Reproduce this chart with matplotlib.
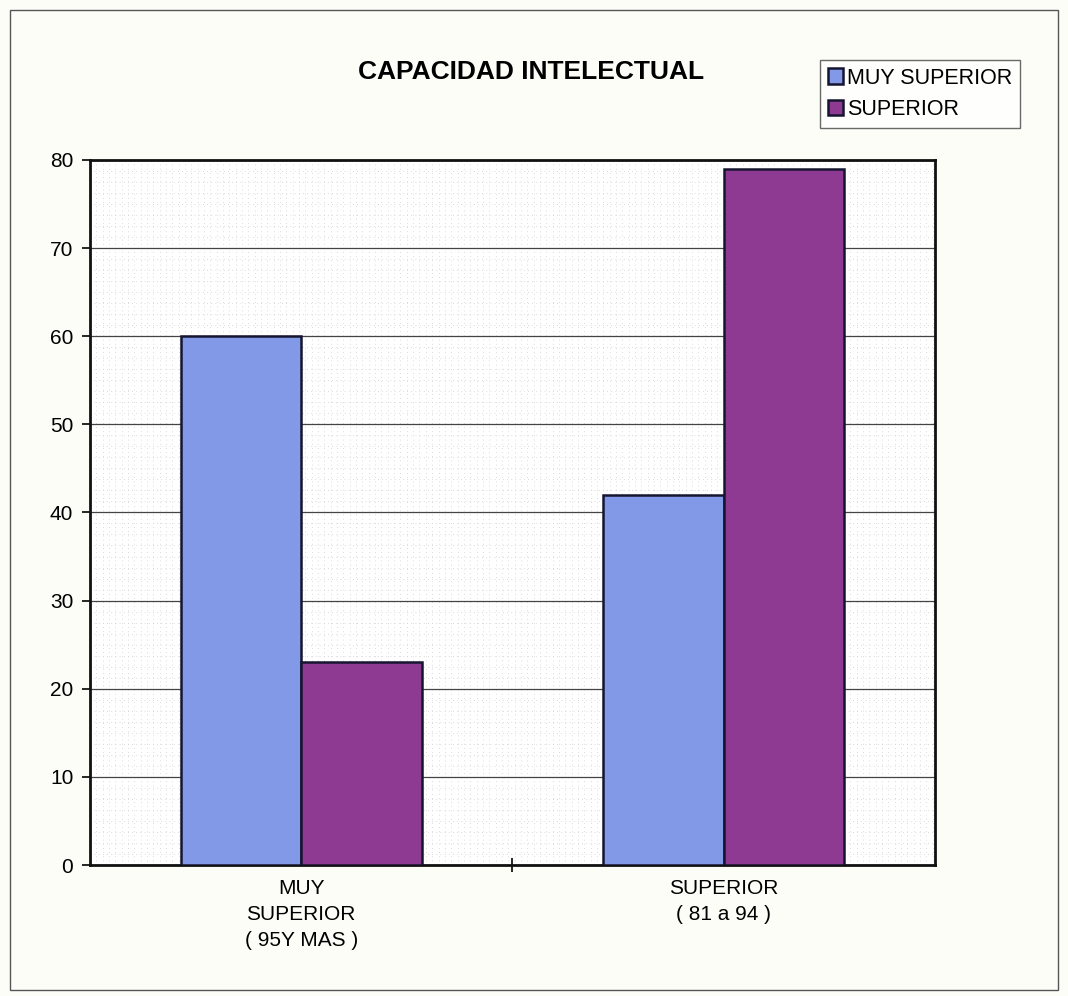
import matplotlib.pyplot as plt
import matplotlib.patches as mpatches
import numpy as np

plt.rcParams['font.family'] = ['Liberation Sans', 'DejaVu Sans']

# Daten
categorias = ['MUY\nSUPERIOR\n( 95Y MAS )', 'SUPERIOR\n( 81 a 94 )']
muy_superior = [60, 42]
superior = [23, 79]
series = ['MUY SUPERIOR', 'SUPERIOR']

fig = plt.figure(figsize=(10.68, 9.96), dpi=100)
fig.patch.set_facecolor('#fdfdf8')
fig.patches.append(mpatches.Rectangle((10 / 1068, 6 / 996), 1048 / 1068, 980 / 996,
                                      transform=fig.transFigure, fill=False,
                                      edgecolor='#555555', lw=1.0))

ax = fig.add_axes([0.0843, 0.1315, 0.791, 0.708])
x = np.arange(len(categorias))
w = 0.285
ax.bar(x - w / 2, muy_superior, w, color='#8199e6', edgecolor='#151530', lw=1.8, zorder=3,
       label=series[0])
ax.bar(x + w / 2, superior, w, color='#8e3a92', edgecolor='#151530', lw=1.8, zorder=3,
       label=series[1])

ax.set_xlim(-0.5, 1.5)
ax.set_ylim(0, 80)
ax.set_yticks(np.arange(0, 81, 10))
ax.set_xticks([0.5])
ax.set_xticklabels([''])
ax.grid(True, axis='y', color='#444444', lw=0.9, zorder=1)
# fondo punteado
ax.set_yticks(np.arange(0, 80, 1.25), minor=True)
ax.set_xticks(np.arange(-0.5, 1.5, 0.015), minor=True)
ax.grid(True, which='minor', color='#cfcfcf', lw=0.6, ls=(0, (1, 4)), zorder=0)
ax.tick_params(which='minor', length=0)
ax.tick_params(axis='y', direction='out', length=6, width=1.2, labelsize=15, pad=6)
ax.tick_params(axis='x', direction='inout', length=10, width=1.2)
for s in ax.spines.values():
    s.set_linewidth(2)
    s.set_color('#111111')
ax.set_facecolor('white')

for xi, lab in zip(x, categorias):
    ax.text(xi, -1.6, lab, ha='center', va='top', fontsize=15, linespacing=1.45)

fig.text(0.497, 0.928, 'CAPACIDAD INTELECTUAL', ha='center', va='center',
         fontsize=19, fontweight='bold')

leg = fig.legend(loc='upper left', bbox_to_anchor=(820 / 1068, 1 - 60 / 996),
                 fontsize=15.5, frameon=True, fancybox=False, handlelength=0.7,
                 handleheight=0.7, handletextpad=0.2, borderpad=0.35, labelspacing=0.5,
                 borderaxespad=0)
leg.get_frame().set_edgecolor('#444444')
leg.get_frame().set_linewidth(1.0)

fig.savefig('out.png', dpi=100, facecolor=fig.get_facecolor())
